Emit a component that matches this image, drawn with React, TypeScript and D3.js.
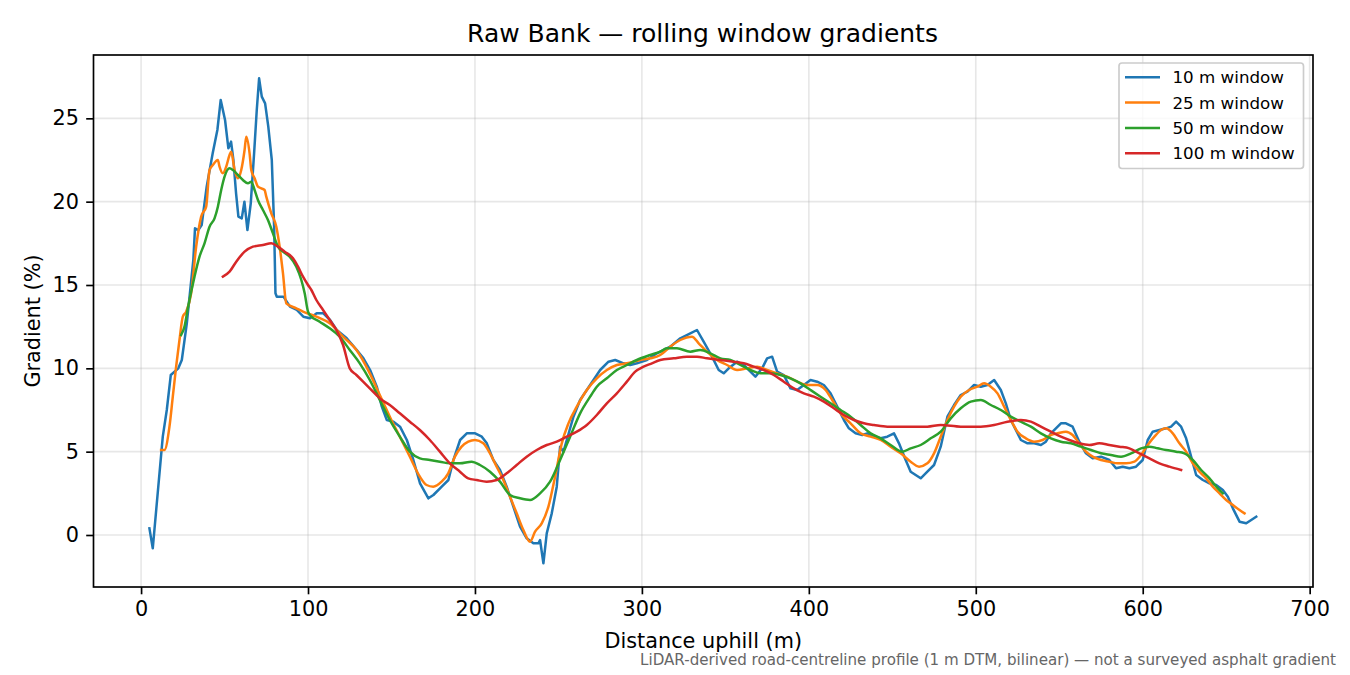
import React, { useEffect, useRef } from "react";
import * as d3 from "d3";

// 10 m window
const dist10 = [
  5, 7, 13, 15.4, 17.8, 22.3, 24.4, 27.4, 31.3, 32.3, 34.3, 36.3, 39.3, 42.9, 45.7, 47.7, 50.3, 52.3, 53.9, 55.3,
  56.9, 58.3, 60.3, 61.9, 63.7, 65.7, 67.7, 69.3, 70.7, 72.3, 74.3, 76.2, 78.3, 79.7, 80.5, 81.3, 85.3, 89.2, 93.3,
  97.2, 101.2, 105.2, 109.2, 113.2, 117.2, 123.2, 129.2, 133.2, 137.2, 141.2, 144.2, 147.2, 151.2, 155.1, 159.2,
  163.1, 167.1, 172.1, 175.1, 180.1, 184.1, 187.1, 191.1, 195.1, 200.1, 204.1, 207.1, 211, 215, 219, 223, 227, 231,
  235, 238, 239, 241, 243, 246, 249, 251, 253, 255, 259, 263, 267, 271, 275, 280, 284, 289, 293, 297, 303, 309, 317,
  323, 329, 333, 337, 342, 346, 349, 352, 357, 361, 365, 368, 372, 375, 378, 381, 385, 389, 393, 397, 401, 405, 409,
  413, 417, 421, 424, 428, 432, 435, 439, 443, 447, 451, 454, 458, 461, 467, 471, 475, 479, 483, 487, 491, 495, 499,
  503, 507, 511, 515, 518, 521, 524, 527, 531, 535, 539, 542, 545, 548, 551, 554, 558, 562, 566, 570, 575, 580, 584,
  588, 592, 596, 600, 603, 606, 610, 614, 617, 620, 623, 626, 629, 632, 636, 640, 644, 648, 651, 654, 658, 662, 665,
  668,
];
const grad10 = [
  0.4, -0.8, 5.9, 7.5, 9.6, 10.0, 10.5, 12.7, 16.5, 18.4, 18.3, 18.6, 20.9, 22.9, 24.3, 26.1, 24.9, 23.2, 23.6, 22.5,
  20.5, 19.1, 19.0, 20.0, 18.3, 19.9, 22.9, 25.5, 27.4, 26.3, 25.9, 24.5, 22.5, 18.5, 14.5, 14.3, 14.3, 13.7, 13.5,
  13.1, 13.0, 13.3, 13.3, 12.9, 12.3, 11.8, 11.1, 10.6, 9.9, 8.9, 7.7, 6.9, 6.8, 6.5, 5.7,
  4.5, 3.1, 2.2, 2.4, 2.9, 3.3, 4.5, 5.7, 6.1, 6.1, 5.9, 5.5, 4.5, 3.9, 2.9, 1.7, 0.5, -0.2,
  -0.5, -0.5, -0.3, -1.7, 0.1, 1.3, 2.9, 5.3, 5.0, 5.7, 7.1, 8.1, 8.7, 9.3, 9.9, 10.4, 10.5, 10.3, 10.2, 10.3, 10.5, 10.9, 11.3,
  11.8, 12.1, 12.3, 11.6, 10.7, 9.9, 9.7, 10.0, 10.4, 10.2, 9.8, 9.5, 10.0, 10.6, 10.7, 9.8, 9.6, 8.8, 8.7, 9.0, 9.3, 9.2, 9.0,
  8.5, 7.7, 6.9, 6.4, 6.1, 6.0, 6.1, 5.9, 5.8, 5.9, 6.1, 5.5, 4.5, 3.8, 3.4, 3.8, 4.2, 5.3, 7.1, 7.8, 8.4, 8.6, 9.0,
  8.9, 9.0, 9.3, 8.7, 7.9, 6.9, 6.3, 5.7, 5.5, 5.5, 5.4, 5.6, 6.1, 6.4, 6.7, 6.7, 6.5, 5.6, 4.9, 4.6, 4.7, 4.5, 4.0,
  4.1, 4.0, 4.1, 4.5, 5.7, 6.2, 6.3, 6.4, 6.5, 6.8, 6.5, 5.8, 4.7, 3.6, 3.3, 3.1, 3.0, 2.7, 2.3, 1.6, 0.8, 0.7, 0.9,
  1.1,
];

// 25 m window
const dist25 = [
  12, 14, 17, 19, 21, 23, 25, 27, 30, 33, 36, 39, 41, 43, 46, 47, 49, 51, 53, 54, 56, 58, 60, 62, 63, 65, 66, 68, 70,
  72, 74, 75, 78, 81, 83, 85, 87, 93, 97, 105, 113, 121, 129, 137, 143, 149, 155, 161, 167, 171, 175, 180, 184, 188,
  192, 196, 200, 205, 209, 213, 217, 221, 225, 229, 233, 236, 240, 244, 248, 252, 256, 261, 267, 273, 279, 285, 291,
  299, 305, 311, 317, 323, 330, 334, 339, 345, 351, 357, 363, 369, 375, 381, 387, 393, 399, 405, 410, 414, 419, 425,
  431, 437, 443, 449, 455, 461, 466, 471, 475, 479, 483, 487, 491, 496, 501, 505, 509, 513, 517, 521, 525, 530, 535,
  540, 545, 549, 554, 558, 562, 566, 570, 575, 580, 585, 590, 595, 599, 603, 607, 611, 614, 618, 622, 626, 630, 634,
  638, 642, 646, 650, 654, 658, 661,
];
const grad25 = [
  5.1, 5.1, 6.5, 8.3, 10.1, 11.7, 13.1, 13.4, 14.5, 17.3, 19.1, 19.7, 21.9, 22.2, 22.5, 22.1, 21.7, 22.1, 22.8, 23.0,
  21.9, 21.4, 21.9, 23.1, 23.9, 22.9, 21.9, 21.4, 20.9, 20.8, 20.7, 20.3, 19.3, 18.5, 17.3, 15.7, 13.9, 13.6, 13.4,
  13.1, 12.7, 11.9, 11.1, 9.7, 8.4, 7.1, 5.9, 4.7, 3.5, 3.0, 2.9, 3.2, 3.7, 4.7, 5.3, 5.6, 5.7, 5.5, 4.9, 4.1, 3.3,
  2.3, 1.3, 0.3, -0.4, 0.2, 0.7, 1.7, 3.5, 5.5, 6.7, 7.7, 8.7, 9.4, 9.9, 10.2, 10.3, 10.5, 10.6, 10.8, 11.3, 11.7,
  11.9, 11.5, 11.0, 10.5, 10.2, 9.9, 10.0, 10.1, 9.9, 9.7, 9.5, 9.2, 9.0, 9.0, 8.7, 8.1, 7.3, 6.7, 6.1, 5.9, 5.7, 5.3,
  4.9, 4.4, 4.1, 4.3, 4.9, 5.9, 6.9, 7.7, 8.3, 8.7, 8.9, 9.1, 8.9, 8.5, 7.7, 6.9, 6.2, 5.8, 5.6, 5.7, 6.0, 6.1, 6.2,
  6.0, 5.5, 5.0, 4.7, 4.5, 4.4, 4.3, 4.3, 4.4, 4.8, 5.4, 5.9, 6.3, 6.4, 6.1, 5.5, 5.0, 4.3, 3.8, 3.4, 2.9, 2.5, 2.1,
  1.8, 1.5, 1.3,
];

// 50 m window
const dist50 = [
  24, 26, 28, 32, 35, 38, 41, 44, 46, 48, 50, 53, 55, 58, 61, 64, 66, 68, 70, 73, 76, 79, 82, 85, 89, 93, 96, 98, 100,
  101, 107, 113, 119, 125, 131, 137, 143, 149, 155, 161, 167, 173, 179, 185, 191, 198, 203, 209, 215, 221, 227, 233,
  239, 245, 251, 257, 263, 269, 273, 279, 285, 291, 297, 305, 311, 315, 321, 329, 335, 341, 347, 353, 359, 365, 371,
  377, 383, 389, 395, 401, 407, 413, 419, 425, 431, 437, 443, 449, 456, 461, 467, 473, 479, 485, 491, 497, 503, 509,
  515, 521, 527, 533, 539, 545, 551, 557, 563, 569, 575, 581, 587, 593, 599, 604, 609, 614, 620, 625, 630, 635, 640,
  645, 648,
];
const grad50 = [
  12.0, 12.5, 13.6, 15.5, 16.7, 17.5, 18.5, 19.0, 19.7, 20.7, 21.5, 22.0, 21.9, 21.6, 21.3, 21.1, 21.2, 20.7, 20.1,
  19.5, 18.9, 18.1, 17.3, 17.0, 16.7, 16.1, 15.3, 14.5, 13.4, 13.2, 12.8, 12.4, 11.9, 11.1, 10.3, 9.3, 8.1, 6.9, 5.9,
  5.0, 4.6, 4.5, 4.4, 4.3, 4.3, 4.4, 4.2, 3.8, 3.2, 2.4, 2.2, 2.1, 2.5, 3.2, 4.5, 5.9, 7.3, 8.3, 8.9, 9.4, 9.9, 10.2,
  10.5, 10.8, 11.0, 11.2, 11.2, 11.0, 11.1, 10.9, 10.6, 10.5, 10.2, 9.9, 9.7, 9.7, 9.6, 9.4, 9.1, 8.7, 8.3, 7.9, 7.5,
  7.1, 6.6, 6.1, 5.8, 5.4, 5.0, 5.2, 5.4, 5.8, 6.2, 7.0, 7.6, 8.0, 8.1, 7.8, 7.5, 7.1, 6.8, 6.5, 6.1, 5.8, 5.6, 5.5,
  5.3, 5.1, 4.9, 4.8, 4.7, 4.9, 5.2, 5.3, 5.2, 5.1, 5.0, 4.9, 4.5, 3.9, 3.4, 2.8, 2.5,
];

// 100 m window
const dist100 = [
  49, 53, 57, 62, 67, 73, 78, 82, 86, 91, 94, 97, 100, 102, 105, 109, 113, 117, 121, 125, 129, 133, 137, 141, 143, 149,
  155, 161, 167, 173, 179, 185, 191, 196, 201, 207, 213, 219, 225, 231, 237, 243, 249, 255, 261, 267, 273, 279, 285,
  291, 296, 301, 306, 311, 319, 327, 333, 339, 347, 355, 361, 367, 373, 379, 385, 391, 397, 403, 409, 415, 421, 427,
  433, 439, 447, 455, 463, 471, 479, 491, 503, 511, 519, 527, 533, 539, 545, 551, 556, 562, 568, 574, 580, 586, 592,
  598, 604, 610, 616, 623,
];
const grad100 = [
  15.5, 15.8, 16.4, 17.0, 17.3, 17.4, 17.5, 17.3, 17.0, 16.6, 16.1, 15.5, 15.0, 14.7, 14.1, 13.5, 12.9, 12.3, 11.4,
  10.0, 9.6, 9.2, 8.8, 8.4, 8.2, 7.8, 7.3, 6.8, 6.3, 5.7, 5.0, 4.3, 3.8, 3.4, 3.3, 3.2, 3.3, 3.7, 4.2, 4.7, 5.1, 5.4,
  5.6, 5.9, 6.2, 6.6, 7.2, 7.9, 8.5, 9.2, 9.8, 10.1, 10.3, 10.5, 10.6, 10.7, 10.7, 10.6, 10.5, 10.4, 10.3, 10.1, 9.9,
  9.6, 9.2, 8.8, 8.5, 8.3, 8.0, 7.6, 7.2, 6.9, 6.7, 6.6, 6.5, 6.5, 6.5, 6.5, 6.6, 6.5, 6.5, 6.6, 6.8, 6.9, 6.8, 6.5,
  6.2, 5.9, 5.7, 5.5, 5.4, 5.5, 5.4, 5.3, 5.2, 4.9, 4.6, 4.3, 4.1, 3.9,
];

const seriesNames = ["10 m window", "25 m window", "50 m window", "100 m window"];
const seriesColors = ["#1f77b4", "#ff7f0e", "#2ca02c", "#d62728"];
const xTicks = [0, 100, 200, 300, 400, 500, 600, 700];
const yTicks = [0, 5, 10, 15, 20, 25];

const FONT = "DejaVu Sans, Verdana, sans-serif";

const App: React.FC = () => {
  const svgRef = useRef<SVGSVGElement>(null);

  useEffect(() => {
    if (!svgRef.current) return;
    const svg = d3.select(svgRef.current);
    svg.selectAll("*").remove();

    const left = 93.5;
    const right = 1313;
    const top = 55;
    const bottom = 587;

    const x = d3.scaleLinear().domain([-28.5, 702]).range([left, right]);
    const y = d3.scaleLinear().domain([-3.12, 28.8]).range([bottom, top]);

    svg.append("rect").attr("width", 1350).attr("height", 675).attr("fill", "#fff");

    // grid
    const grid = svg.append("g").attr("stroke", "#b0b0b0").attr("stroke-opacity", 0.3).attr("stroke-width", 1.6);
    xTicks.forEach((t) => {
      grid.append("line").attr("x1", x(t)).attr("x2", x(t)).attr("y1", top).attr("y2", bottom);
    });
    yTicks.forEach((t) => {
      grid.append("line").attr("x1", left).attr("x2", right).attr("y1", y(t)).attr("y2", y(t));
    });

    // series
    const all = [
      { xs: dist10, ys: grad10 },
      { xs: dist25, ys: grad25 },
      { xs: dist50, ys: grad50 },
      { xs: dist100, ys: grad100 },
    ];
    all.forEach((s, i) => {
      const pts: [number, number][] = s.xs.map((d, j) => [d, s.ys[j]]);
      const line = d3
        .line<[number, number]>()
        .x((d) => x(d[0]))
        .y((d) => y(d[1]))
        .curve(i === 0 ? d3.curveLinear : d3.curveMonotoneX);
      svg
        .append("path")
        .datum(pts)
        .attr("fill", "none")
        .attr("stroke", seriesColors[i])
        .attr("stroke-width", 2.5)
        .attr("stroke-linejoin", "round")
        .attr("stroke-linecap", "square")
        .attr("d", line);
    });

    // axes
    const xAxis = svg
      .append("g")
      .attr("transform", `translate(0,${bottom})`)
      .call(d3.axisBottom(x).tickValues(xTicks).tickSize(7.3).tickPadding(7.3).tickFormat(d3.format("d")));
    const yAxis = svg
      .append("g")
      .attr("transform", `translate(${left},0)`)
      .call(d3.axisLeft(y).tickValues(yTicks).tickSize(7.3).tickPadding(7.3).tickFormat(d3.format("d")));
    [xAxis, yAxis].forEach((a) => {
      a.select(".domain").remove();
      a.selectAll("line").attr("stroke", "#000").attr("stroke-width", 1.67);
      a.selectAll("text").attr("font-family", FONT).attr("font-size", 20.8).attr("fill", "#000");
    });

    svg
      .append("rect")
      .attr("x", left)
      .attr("y", top)
      .attr("width", right - left)
      .attr("height", bottom - top)
      .attr("fill", "none")
      .attr("stroke", "#000")
      .attr("stroke-width", 1.67);

    // labels
    svg
      .append("text")
      .attr("x", 702.5)
      .attr("y", 42)
      .attr("text-anchor", "middle")
      .attr("font-family", FONT)
      .attr("font-size", 25)
      .text("Raw Bank \u2014 rolling window gradients");
    svg
      .append("text")
      .attr("x", (left + right) / 2)
      .attr("y", 648)
      .attr("text-anchor", "middle")
      .attr("font-family", FONT)
      .attr("font-size", 20.8)
      .text("Distance uphill (m)");
    svg
      .append("text")
      .attr("transform", `translate(40,${(top + bottom) / 2}) rotate(-90)`)
      .attr("text-anchor", "middle")
      .attr("font-family", FONT)
      .attr("font-size", 20.8)
      .text("Gradient (%)");
    svg
      .append("text")
      .attr("x", 1336)
      .attr("y", 665)
      .attr("text-anchor", "end")
      .attr("font-family", FONT)
      .attr("font-size", 15.1)
      .attr("fill", "#666")
      .text("LiDAR-derived road-centreline profile (1 m DTM, bilinear) \u2014 not a surveyed asphalt gradient");

    // legend
    const lg = svg.append("g");
    lg.append("rect")
      .attr("x", 1119)
      .attr("y", 63)
      .attr("width", 184.5)
      .attr("height", 105.5)
      .attr("rx", 3)
      .attr("fill", "#fff")
      .attr("fill-opacity", 0.8)
      .attr("stroke", "#cccccc")
      .attr("stroke-width", 1.67);
    seriesNames.forEach((name, i) => {
      const cy = 77.3 + i * 25.3;
      lg.append("line")
        .attr("x1", 1125)
        .attr("x2", 1160)
        .attr("y1", cy)
        .attr("y2", cy)
        .attr("stroke", seriesColors[i])
        .attr("stroke-width", 2.5);
      lg.append("text")
        .attr("x", 1172.5)
        .attr("y", cy + 6)
        .attr("font-family", FONT)
        .attr("font-size", 16.7)
        .text(name);
    });
  }, []);

  return (
    <svg
      ref={svgRef}
      width={1350}
      height={675}
      style={{ position: "absolute", left: 0, top: 0, display: "block" }}
    />
  );
};

export default App;
